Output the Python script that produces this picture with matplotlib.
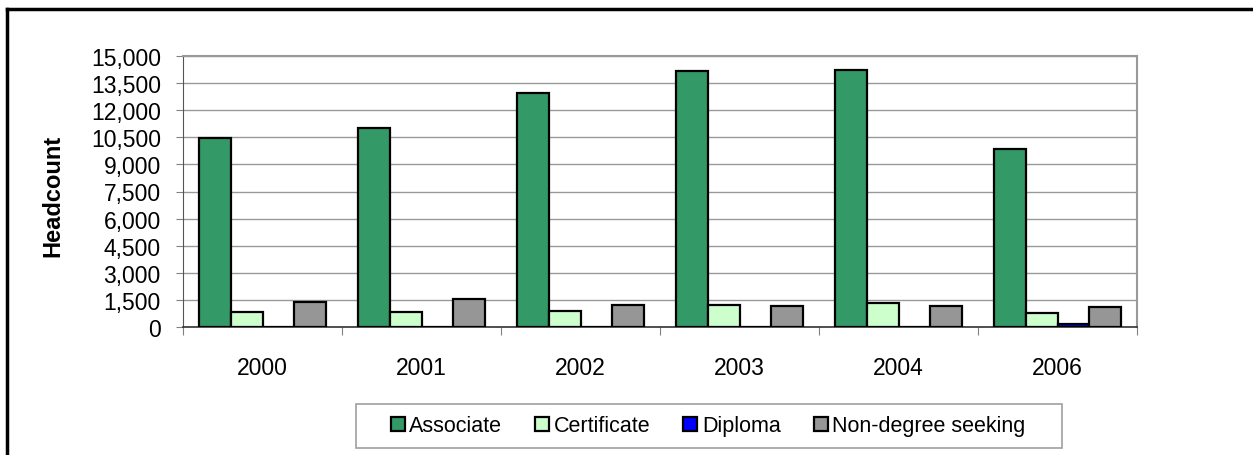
import matplotlib
matplotlib.use("Agg")
import matplotlib.pyplot as plt
import numpy as np
from matplotlib.lines import Line2D
from matplotlib.patches import Rectangle

years = ["2000", "2001", "2002", "2003", "2004", "2006"]
associate = [10480, 11000, 12930, 14150, 14220, 9850]
certificate = [810, 810, 890, 1220, 1330, 780]
diploma = [0, 0, 0, 0, 0, 160]
nondegree = [1400, 1550, 1240, 1180, 1140, 1130]
series_names = ["Associate", "Certificate", "Diploma", "Non-degree seeking"]
colors = ["#339966", "#CCFFCC", "#0000FF", "#969696"]
yticks = [0, 1500, 3000, 4500, 6000, 7500, 9000, 10500, 12000, 13500, 15000]

plt.rcParams['font.family'] = ['Liberation Sans', 'DejaVu Sans']

W, H = 1253, 456
fig = plt.figure(figsize=(W/100, H/100), dpi=100)
ax = fig.add_axes([183/W, 1-328/H, (1137-183)/W, (328-57)/H])

x = np.arange(len(years))
bw = 0.2
data = [associate, certificate, diploma, nondegree]
for i, (vals, c, name) in enumerate(zip(data, colors, series_names)):
    ax.bar(x + (i - 1.5)*bw, vals, width=bw, color=c, edgecolor="black",
           linewidth=1.6, label=name, zorder=3)

ax.set_xlim(-0.5, len(years)-0.5)
ax.set_ylim(0, 15000)
ax.set_yticks(yticks)
ax.set_yticklabels([f"{v:,}" for v in yticks], fontsize=16.5)
ax.yaxis.grid(True, color="#999999", linewidth=1, zorder=0)
ax.set_axisbelow(True)

ax.set_xticks(np.arange(-0.5, len(years), 1.0))
ax.set_xticklabels([])
ax.set_xticks(x, minor=True)
ax.set_xticklabels(years, minor=True, fontsize=16.5)
ax.tick_params(axis='x', which='minor', length=0, pad=21)
ax.tick_params(axis='x', which='major', length=6, color="#808080", direction='out')
ax.tick_params(axis='y', length=5, color="#808080", direction='out', pad=11)

for s in ["top", "right"]:
    ax.spines[s].set_color("#999999")
    ax.spines[s].set_linewidth(1.5)
ax.spines["left"].set_color("#555555")
ax.spines["bottom"].set_color("#333333")
ax.spines["bottom"].set_linewidth(1.2)

ax.set_ylabel("Headcount", fontsize=17, fontweight="bold")
ax.yaxis.set_label_coords((64-183)/954, (328-196)/271)

# legend frame
fig.add_artist(Rectangle((356/W, 1-449/H), (1062-356)/W, 44/H, transform=fig.transFigure,
                         facecolor="white", edgecolor="#A0A0A0", linewidth=1.2))
leg = fig.legend(loc="center", bbox_to_anchor=(708/W, 1-427/H),
                 ncol=4, frameon=False, fontsize=15.5, handlelength=0.65,
                 handleheight=0.65, handletextpad=0.2, columnspacing=1.55,
                 borderpad=0.3)

# outer border (left and top visible)
fig.add_artist(Line2D([7/W, 7/W], [0, 1-10/H], color="black", linewidth=2.5))
fig.add_artist(Line2D([7/W, 1], [1-10/H, 1-10/H], color="black", linewidth=2.5))

fig.savefig("out.png", dpi=100)
